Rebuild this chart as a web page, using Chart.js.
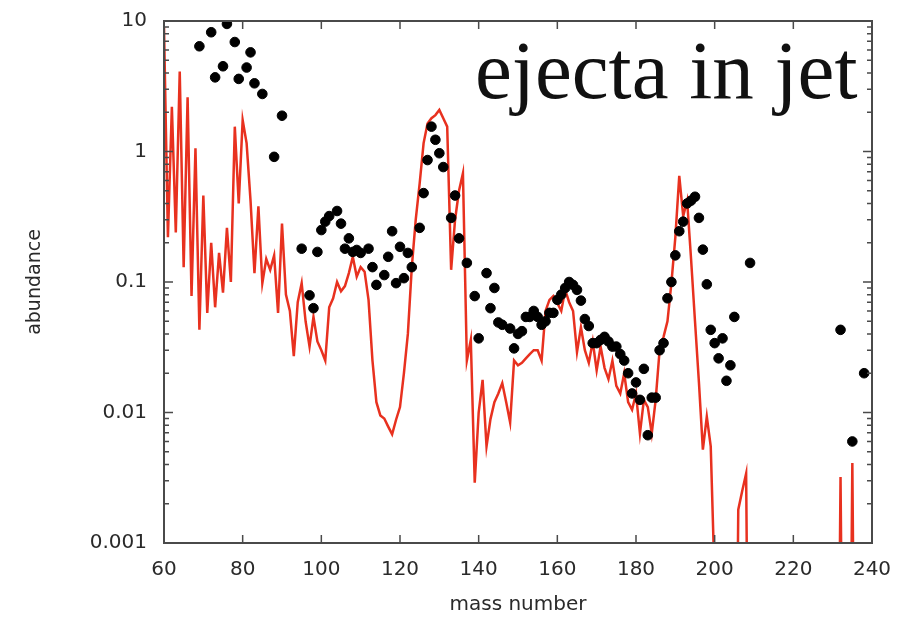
<!DOCTYPE html>
<html>
<head>
<meta charset="utf-8">
<script src="https://cdn.jsdelivr.net/npm/chart.js@4.4.1/dist/chart.umd.min.js"></script>
<style>
  html, body { margin: 0; padding: 0; background: #fff; }
  canvas { display: block; }
</style>
</head>
<body>
<canvas id="chartAbund" width="901" height="619"></canvas>
<script>
// red curve : ejecta in jet (model)
const modelMass = [
  60, 61, 62, 63, 64, 65, 66, 67, 68, 69, 70, 71, 72, 73, 74, 75, 76, 77, 78, 79,
  80, 81, 82, 83, 84, 85, 86, 87, 88, 89, 90, 91, 92, 93, 94, 95, 96, 97, 98, 99,
  100, 101, 102, 103, 104, 105, 106, 107, 108, 109, 110, 111, 112, 113, 114, 115, 116, 117, 118, 119,
  120, 121, 122, 123, 124, 125, 126, 127, 128, 129, 130, 131, 132, 133, 134, 135, 136, 137, 138, 139,
  140, 141, 142, 143, 144, 145, 146, 147, 148, 149, 150, 151, 152, 153, 154, 155, 156, 157, 158, 159,
  160, 161, 162, 163, 164, 165, 166, 167, 168, 169, 170, 171, 172, 173, 174, 175, 176, 177, 178, 179,
  180, 181, 182, 183, 184, 185, 186, 187, 188, 189, 190, 191, 192, 193, 194, 195, 196, 197, 198, 199,
  200, 201, 205, 206, 207, 208, 209, 231, 232, 233, 234, 235, 236, 240
];
const modelAbund = [
  9, 0.22, 2.2, 0.24, 4.1, 0.13, 2.6, 0.078, 1.06, 0.043, 0.46, 0.058, 0.2, 0.064, 0.167, 0.083, 0.26, 0.1, 1.55, 0.4,
  1.74, 1.16, 0.42, 0.117, 0.38, 0.098, 0.15, 0.124, 0.16, 0.058, 0.28, 0.08, 0.06, 0.027, 0.07, 0.098, 0.05, 0.032, 0.054, 0.035,
  0.03, 0.025, 0.064, 0.075, 0.1, 0.085, 0.093, 0.117, 0.156, 0.11, 0.13, 0.12, 0.073, 0.025, 0.012, 0.0095, 0.009, 0.0078, 0.0068, 0.0088,
  0.011, 0.02, 0.04, 0.13, 0.3, 0.57, 1.16, 1.64, 1.8, 1.9, 2.08, 1.8, 1.55, 0.124, 0.3, 0.5, 0.68, 0.025, 0.036, 0.0029,
  0.01, 0.0178, 0.0055, 0.0089, 0.012, 0.014, 0.0168, 0.012, 0.0084, 0.025, 0.023, 0.024, 0.026, 0.028, 0.03, 0.03, 0.025, 0.06, 0.073, 0.078,
  0.069, 0.06, 0.087, 0.07, 0.06, 0.029, 0.045, 0.03, 0.024, 0.035, 0.021, 0.032, 0.022, 0.018, 0.025, 0.016, 0.014, 0.02, 0.012, 0.0105,
  0.014, 0.0069, 0.0125, 0.011, 0.0069, 0.0125, 0.03, 0.038, 0.05, 0.098, 0.22, 0.65, 0.32, 0.42, 0.15, 0.05, 0.017, 0.0052, 0.0093, 0.0055,
  0.0005, 1e-6, 1e-6, 0.0018, 0.0025, 0.0034, 1e-6, 1e-6, 0.0032, 1e-6, 1e-6, 0.0041, 1e-6, 1e-6
];

// black dots : solar r-process abundances
const solarMass = [
  69, 72, 73, 75, 76, 78, 79, 81, 82, 83, 85, 88, 90,
  95, 97, 98, 99, 100, 101, 102, 104, 105, 106, 107, 108, 109, 110, 112, 113, 114, 116, 117, 118, 119,
  120, 121, 122, 123, 125, 126, 127, 128, 129, 130, 131, 133, 134, 135, 137, 139,
  140, 142, 143, 144, 145, 146, 148, 149, 150, 151, 152, 153, 154, 155, 156, 157, 158, 159,
  160, 161, 162, 163, 164, 165, 166, 167, 168, 169, 170, 171, 172, 173, 174, 175, 176, 177, 178, 179,
  180, 181, 182, 183, 184, 185, 186, 187, 188, 189, 190, 191, 192, 193, 194, 195, 196, 197, 198, 199,
  200, 201, 202, 203, 204, 205, 209, 232, 235, 238
];
const solarAbund = [
  6.4, 8.2, 3.7, 4.5, 9.5, 6.9, 3.6, 4.4, 5.75, 3.33, 2.76, 0.91, 1.88,
  0.18, 0.079, 0.063, 0.17, 0.25, 0.29, 0.32, 0.35, 0.28, 0.18, 0.216, 0.17, 0.176, 0.167, 0.18, 0.13, 0.095, 0.113, 0.156, 0.245, 0.098,
  0.186, 0.107, 0.167, 0.13, 0.26, 0.48, 0.86, 1.55, 1.23, 0.97, 0.76, 0.31, 0.46, 0.216, 0.14, 0.078,
  0.037, 0.117, 0.063, 0.09, 0.049, 0.047, 0.044, 0.031, 0.04, 0.042, 0.054, 0.054, 0.06, 0.054, 0.047, 0.05, 0.058, 0.058,
  0.073, 0.08, 0.09, 0.1, 0.095, 0.087, 0.072, 0.052, 0.046, 0.034, 0.034, 0.036, 0.038, 0.035, 0.032, 0.032, 0.028, 0.025, 0.02, 0.014,
  0.017, 0.0125, 0.0216, 0.0067, 0.013, 0.013, 0.03, 0.034, 0.075, 0.1, 0.16, 0.245, 0.29, 0.4, 0.42, 0.45, 0.31, 0.177, 0.096, 0.043,
  0.034, 0.026, 0.037, 0.0175, 0.023, 0.054, 0.14, 0.043, 0.006, 0.02
];

const massTicks = [60, 80, 100, 120, 140, 160, 180, 200, 220, 240];
const abundTicks = [0.001, 0.01, 0.1, 1, 10];

const textColor = "#2a2a2a";

// frame + inward tick marks + the label in the plot
const frameTicks = {
  id: "frameTicks",
  afterDraw(chart) {
    const { ctx, chartArea: a, scales } = chart;
    const x = scales.x, y = scales.y;
    ctx.save();
    ctx.strokeStyle = "#4a4a4a";
    ctx.lineWidth = 1.5;
    ctx.beginPath();
    massTicks.forEach((m) => {
      const px = x.getPixelForValue(m);
      ctx.moveTo(px, a.bottom);
      ctx.lineTo(px, a.bottom - 8);
      ctx.moveTo(px, a.top);
      ctx.lineTo(px, a.top + 8);
    });
    abundTicks.forEach((v, i) => {
      const py = y.getPixelForValue(v);
      ctx.moveTo(a.left, py);
      ctx.lineTo(a.left + 9, py);
      ctx.moveTo(a.right, py);
      ctx.lineTo(a.right - 9, py);
      if (i === abundTicks.length - 1) return;
      for (let k = 2; k <= 9; k++) {
        const pm = y.getPixelForValue(v * k);
        ctx.moveTo(a.left, pm);
        ctx.lineTo(a.left + 5, pm);
        ctx.moveTo(a.right, pm);
        ctx.lineTo(a.right - 5, pm);
      }
    });
    ctx.stroke();
    ctx.lineWidth = 2;
    ctx.strokeRect(a.left, a.top, a.width, a.height);

    ctx.fillStyle = "#111";
    ctx.font = '83px "Liberation Serif", "Times New Roman", serif';
    ctx.textAlign = "left";
    ctx.textBaseline = "alphabetic";
    ctx.fillText("ejecta in jet", 475, 98);
    ctx.restore();
  },
};

// no extra room for overhanging tick labels: the frame must sit where the original one does
function noOverhang(s) {
  s.paddingTop = 0;
  s.paddingBottom = 0;
  s.paddingLeft = 0;
  s.paddingRight = 0;
}

const modelPoints = modelMass.map((m, i) => ({ x: m, y: modelAbund[i] }));
const solarPoints = solarMass.map((m, i) => ({ x: m, y: solarAbund[i] }));

new Chart(document.getElementById("chartAbund").getContext("2d"), {
  type: "scatter",
  data: {
    datasets: [
      {
        label: "solar r",
        data: solarPoints,
        backgroundColor: "#000",
        borderColor: "#000",
        pointRadius: 4.8,
        pointHoverRadius: 4.8,
        order: 0,
      },
      {
        label: "jet",
        data: modelPoints,
        showLine: true,
        borderColor: "#e8311f",
        borderWidth: 2.5,
        pointRadius: 0,
        tension: 0,
        clip: 0,
        order: 1,
      },
    ],
  },
  options: {
    responsive: false,
    animation: false,
    layout: { autoPadding: false, padding: { top: 21, right: 29, left: 0, bottom: 0 } },
    plugins: {
      legend: { display: false },
      tooltip: { enabled: false },
    },
    scales: {
      x: {
        type: "linear",
        min: 60,
        max: 240,
        afterFit: (s) => { s.height = 76; noOverhang(s); },
        afterBuildTicks: (s) => { s.ticks = massTicks.map((v) => ({ value: v })); },
        grid: { display: false, drawTicks: false },
        border: { display: false },
        ticks: {
          padding: 15,
          color: textColor,
          font: { family: '"DejaVu Sans", sans-serif', size: 20 },
        },
        title: {
          display: true,
          text: "mass number",
          color: textColor,
          padding: { top: 0, bottom: 2 },
          font: { family: '"DejaVu Sans", sans-serif', size: 20 },
        },
      },
      y: {
        type: "logarithmic",
        min: 0.001,
        max: 10,
        afterFit: (s) => { s.width = 164; noOverhang(s); },
        afterBuildTicks: (s) => { s.ticks = abundTicks.map((v) => ({ value: v })); },
        grid: { display: false, drawTicks: false },
        border: { display: false },
        ticks: {
          padding: 17,
          color: textColor,
          font: { family: '"DejaVu Sans", sans-serif', size: 20 },
          callback: (v) => String(v),
        },
        title: {
          display: true,
          text: "abundance",
          color: textColor,
          padding: { top: 24, bottom: 0 },
          font: { family: '"DejaVu Sans", sans-serif', size: 19 },
        },
      },
    },
  },
  plugins: [frameTicks],
});
</script>
</body>
</html>
